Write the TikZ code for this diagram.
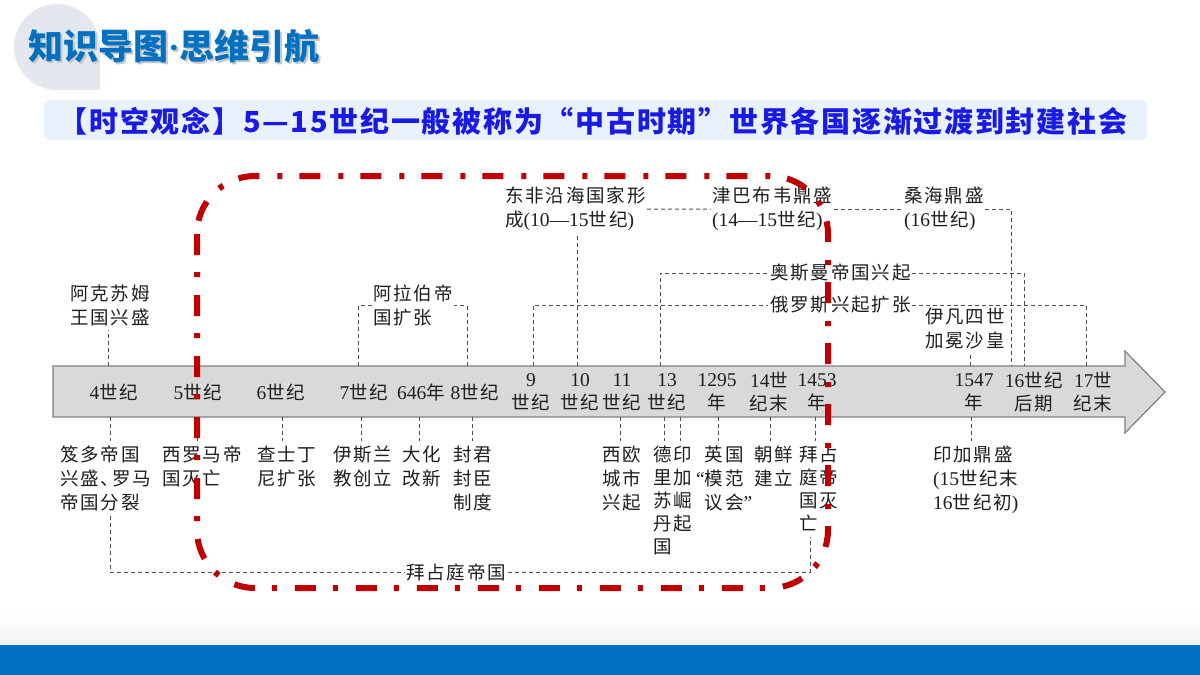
\documentclass[tikz,border=0pt]{standalone}
\usepackage{fontspec}
\setmainfont{Noto Sans CJK SC}
\newfontfamily\cjkls{Noto Sans CJK SC}[LetterSpace=10]
\newfontfamily\cjksub{Noto Sans CJK SC}[LetterSpace=6]
\newfontfamily\lat{Liberation Serif}
\newcommand\nm[1]{{\lat\fontsize{19.5}{24}\selectfont #1}}
\definecolor{txt}{HTML}{1E1E1E}
\definecolor{dg}{HTML}{505050}
\definecolor{redc}{HTML}{C00000}
\definecolor{bluebar}{HTML}{0070C0}
\definecolor{subfill}{HTML}{E8F1FC}
\definecolor{subc}{HTML}{1A1AE6}
\definecolor{circ}{HTML}{E4E8EE}
\definecolor{tlfill}{HTML}{D9D9D9}
\definecolor{tldraw}{HTML}{808080}
\begin{document}
\begin{tikzpicture}[x=1pt,y=-1pt,
  lab/.style={inner sep=0pt, text=txt, font=\cjkls\fontsize{18.5}{24}\selectfont, align=left, anchor=north west},
  col/.style={inner sep=0pt, text=txt, font=\cjkls\fontsize{18.5}{23}\selectfont, align=left, anchor=north west},
  tlab/.style={inner sep=0pt, text=txt, font=\cjkls\fontsize{18.5}{23}\selectfont, align=center},
  gd/.style={draw=dg, line width=0.9pt, dash pattern=on 4pt off 3pt},
  redbox/.style={draw=redc, line width=6pt, dash pattern=on 21pt off 17pt on 5pt off 18pt, rounded corners=58pt}]
\useasboundingbox (0,0) rectangle (1200,675);
\fill[white] (0,0) rectangle (1200,675);
% header decoration
\fill[circ] (57,47) circle (43);
\fill[circ] (57,47) rectangle (100,90);
\node[anchor=west, inner sep=0pt, font=\bfseries\fontsize{35}{37}\selectfont, text=gray!45] (titleshadow) at (30,48) {知识导图{\lat\bfseries·}思维引航};
\node[anchor=west, inner sep=0pt, font=\bfseries\fontsize{35}{37}\selectfont, text=bluebar] (title) at (28,46) {知识导图{\lat\bfseries·}思维引航};
\node[fill=subfill, rounded corners=6pt, minimum width=1103pt, minimum height=40pt, inner sep=0pt] (subbox) at (595.5,120) {};
\node[inner sep=0pt, font=\cjksub\bfseries\fontsize{29}{31}\selectfont, text=subc] (sub) at (593,121) {【时空观念】5—15世纪一般被称为“中古时期”世界各国逐渐过渡到封建社会};
% bottom
\shade[top color=white, bottom color=gray!10] (0,612) rectangle (1200,645);
\fill[bluebar] (0,645) rectangle (1200,675);
% timeline arrow
\draw[fill=tlfill, draw=tldraw, line width=1.2pt] (53,366) -- (1125,366) -- (1125,351) -- (1165,392) -- (1125,433) -- (1125,417) -- (53,417) -- cycle;
% timeline labels
\node[tlab] (tl4) at (114,392) {\nm{4}世纪};
\node[tlab] (tl5) at (198,392) {\nm{5}世纪};
\node[tlab] (tl6) at (281,392) {\nm{6}世纪};
\node[tlab] (tl7) at (364,392) {\nm{7}世纪};
\node[tlab] (tl646) at (421,392) {\nm{646}年};
\node[tlab] (tl8) at (475,392) {\nm{8}世纪};
\node[tlab] (tl9) at (531,392) {\nm{9}\\世纪};
\node[tlab] (tl10) at (580,392) {\nm{10}\\世纪};
\node[tlab] (tl11) at (622,392) {\nm{11}\\世纪};
\node[tlab] (tl13) at (667,392) {\nm{13}\\世纪};
\node[tlab] (tl1295) at (717,392) {\nm{1295}\\年};
\node[tlab] (tl14) at (769,392) {\nm{14}世\\纪末};
\node[tlab] (tl1453) at (817,392) {\nm{1453}\\年};
\node[tlab] (tl1547) at (974,392) {\nm{1547}\\年};
\node[tlab] (tl16) at (1034,392) {\nm{16}世纪\\后期};
\node[tlab] (tl17) at (1093,392) {\nm{17}世\\纪末};
% attachment points on the timeline
\coordinate (ta) at (108,366);
\coordinate (t7) at (358,366);
\coordinate (t8) at (467,366);
\coordinate (t9) at (533,366);
\coordinate (t10) at (577,366);
\coordinate (t13) at (660,366);
\coordinate (t1547) at (970,366);
\coordinate (t16a) at (1011,366);
\coordinate (t16b) at (1024,366);
\coordinate (t17) at (1086,366);
\coordinate (b4) at (110,417);
\coordinate (b5) at (197,417);
\coordinate (b6) at (282,417);
\coordinate (b7) at (361,417);
\coordinate (b646) at (419,417);
\coordinate (b8) at (472,417);
\coordinate (b11) at (620,417);
\coordinate (b13) at (664,417);
\coordinate (b13b) at (680,417);
\coordinate (b1295) at (718,417);
\coordinate (b14) at (770,417);
\coordinate (b1453) at (815,417);
\coordinate (b1547) at (971,417);
% labels above
\node[lab] (aksum) at (70,285) {阿克苏姆\\王国兴盛};
\node[lab] (arab) at (373,285) {阿拉伯帝\\国扩张};
\node[lab] (dongfei) at (505,187) {东非沿海国家形\\成\nm{(10—15}世纪\nm{)}};
\node[lab] (zimba) at (712,187) {津巴布韦鼎盛\\\nm{(14—15}世纪\nm{)}};
\node[lab] (sanghai) at (904,187) {桑海鼎盛\\\nm{(16}世纪\nm{)}};
\node[lab, anchor=west] (ottoman) at (770,273) {奥斯曼帝国兴起};
\node[lab, anchor=west] (russia) at (770,305) {俄罗斯兴起扩张};
\node[lab] (ivan) at (925,308) {伊凡四世\\加冕沙皇};
% labels below
\node[lab] (gupta) at (60,446) {笈多帝国\\兴盛、\kern-7pt罗马\\帝国分裂};
\node[lab] (xiluo) at (162,446) {西罗马帝\\国灭亡};
\node[lab] (justin) at (257,446) {查士丁\\尼扩张};
\node[lab] (islam) at (333,446) {伊斯兰\\教创立};
\node[lab] (taika) at (402,446) {大化\\改新};
\node[lab] (feudal) at (453,446) {封君\\封臣\\制度};
\node[lab] (city) at (602,446) {西欧\\城市\\兴起};
\node[col] (delhi) at (653,446) {德\\里\\苏\\丹\\国};
\node[col] (inca) at (673,446) {印\\加\\崛\\起};
\node[lab] (parl) at (696,446) {\hphantom{\nm{“}}英国\\\nm{“}模范\\\hphantom{\nm{“}}议会\nm{”}};
\node[lab] (korea) at (754,446) {朝鲜\\建立};
\node[col] (byz) at (799,446) {拜占\\庭帝\\国灭\\亡};
\node[lab] (incab) at (933,446) {印加鼎盛\\\nm{(15}世纪末\\\nm{16}世纪初\nm{)}};
\node[inner sep=0pt, text=txt, font=\cjkls\fontsize{18.5}{24}\selectfont] (byzemp) at (456,572) {拜占庭帝国};
% connectors above
\draw[gd, shorten >=4pt] (ta) -- (ta |- aksum.south);
\draw[gd] (t7) |- ([xshift=-1pt]arab.west);
\draw[gd] (t8) |- ([xshift=1pt]arab.east);
\draw[gd, shorten >=4pt] (t10) -- (t10 |- dongfei.south);
\draw[gd] ([xshift=1pt]dongfei.east) -- ([xshift=-1pt]zimba.west);
\draw[gd] ([xshift=1pt]zimba.east) -- ([xshift=-1pt]sanghai.west);
\draw[gd] ([xshift=1pt]sanghai.east) -| (t16a);
\draw[gd] (t13) |- ([xshift=-2pt]ottoman.west);
\draw[gd] ([xshift=1pt]ottoman.east) -| (t16b);
\draw[gd] (t9) |- ([xshift=-2pt]russia.west);
\draw[gd] ([xshift=1pt]russia.east) -| (t17);
\draw[gd, shorten >=3pt] (t1547) -- (t1547 |- ivan.south);
% connectors below
\foreach \b/\n in {b4/gupta, b5/xiluo, b6/justin, b7/islam, b646/taika, b8/feudal, b11/city, b13/delhi, b13b/inca, b1295/parl, b14/korea, b1453/byz, b1547/incab}
  \draw[gd, shorten >=5pt] (\b) -- (\b |- \n.north);
\draw[gd, shorten <=4pt] (b4 |- gupta.south) |- ([xshift=-2pt]byzemp.west);
\draw[gd, shorten >=6pt] ([xshift=2pt]byzemp.east) -| ([xshift=-8pt]byz.south);
% red highlight
\draw[redbox] (197,176) rectangle (828,588);
\end{tikzpicture}
\end{document}
